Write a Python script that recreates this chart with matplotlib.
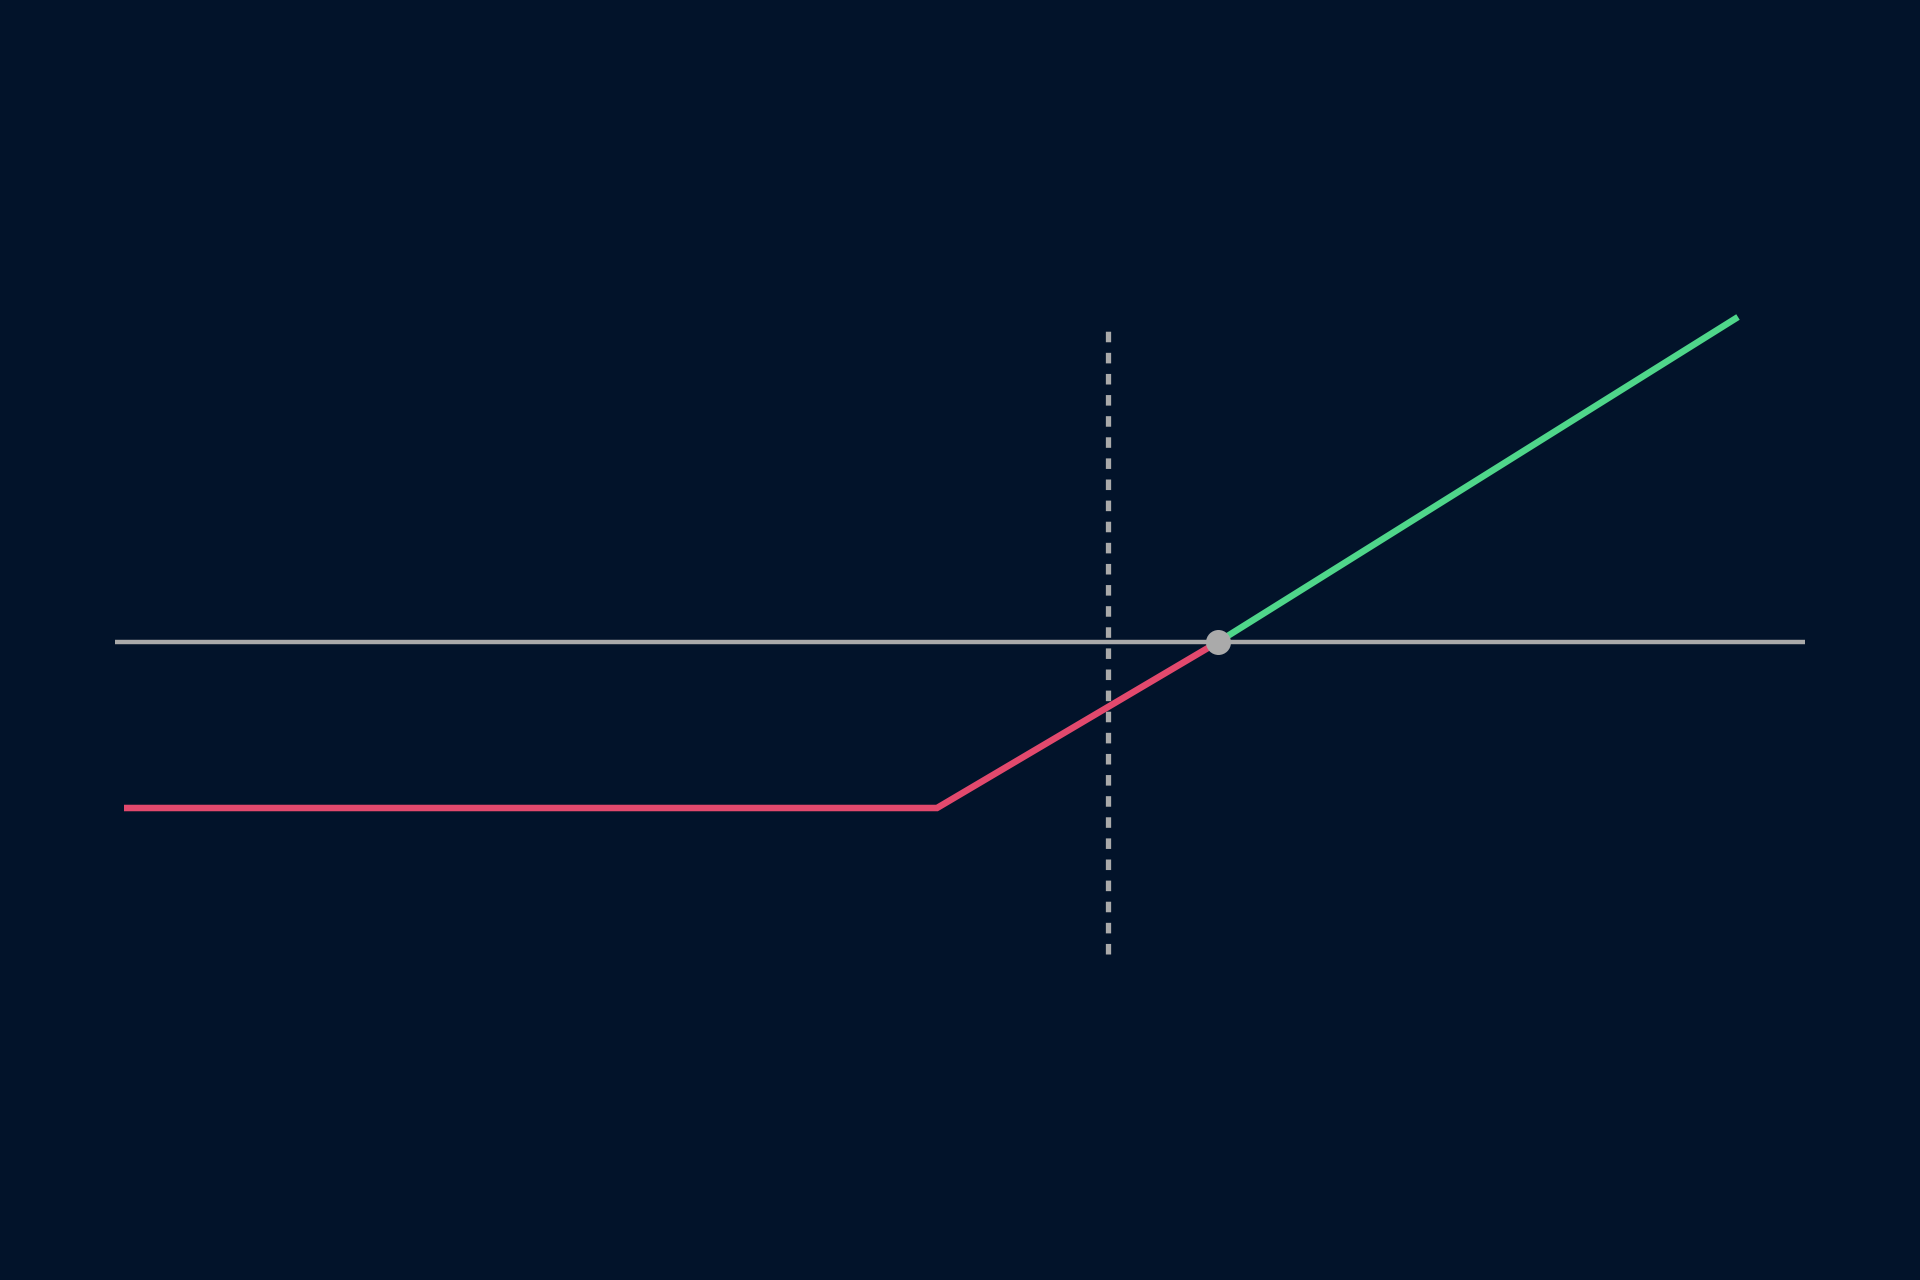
import matplotlib
matplotlib.use("Agg")
import matplotlib.pyplot as plt

# payoff profile (price, profit)
loss_x = [12.4, 93.7, 121.8]
loss_y = [-16.6, -16.6, 0.0]
gain_x = [121.8, 173.8]
gain_y = [0.0, 32.5]

breakeven = (121.8, 0.0)
strike = 110.8
strike_span = (-31.2, 31.9)
zero_span = (11.5, 180.5)

bg = "#02132a"
red = "#e2496d"
green = "#4fd68a"
grey = "#aaaaaa"

fig = plt.figure(figsize=(19.2, 12.8), dpi=100, facecolor=bg)
ax = fig.add_axes([0, 0, 1, 1])
ax.set_facecolor(bg)
ax.set_xlim(0, 192)
ax.set_ylim(-63.8, 64.2)
ax.axis("off")

# zero line
ax.plot(zero_span, [0, 0], color=grey, linewidth=3.2, solid_capstyle="butt", zorder=1)

# strike line (dashed)
ax.plot([strike, strike], strike_span, color=grey, linewidth=3.8,
        dashes=(2, 2), dash_capstyle="butt", zorder=2)

ax.plot(loss_x, loss_y, color=red, linewidth=4.7, solid_capstyle="butt",
        solid_joinstyle="miter", zorder=3)
ax.plot(gain_x, gain_y, color=green, linewidth=4.7, solid_capstyle="butt", zorder=3)

ax.plot(*breakeven, "o", color=grey, markersize=18, markeredgewidth=0, zorder=4)

fig.savefig("out.png", dpi=100, facecolor=bg)
